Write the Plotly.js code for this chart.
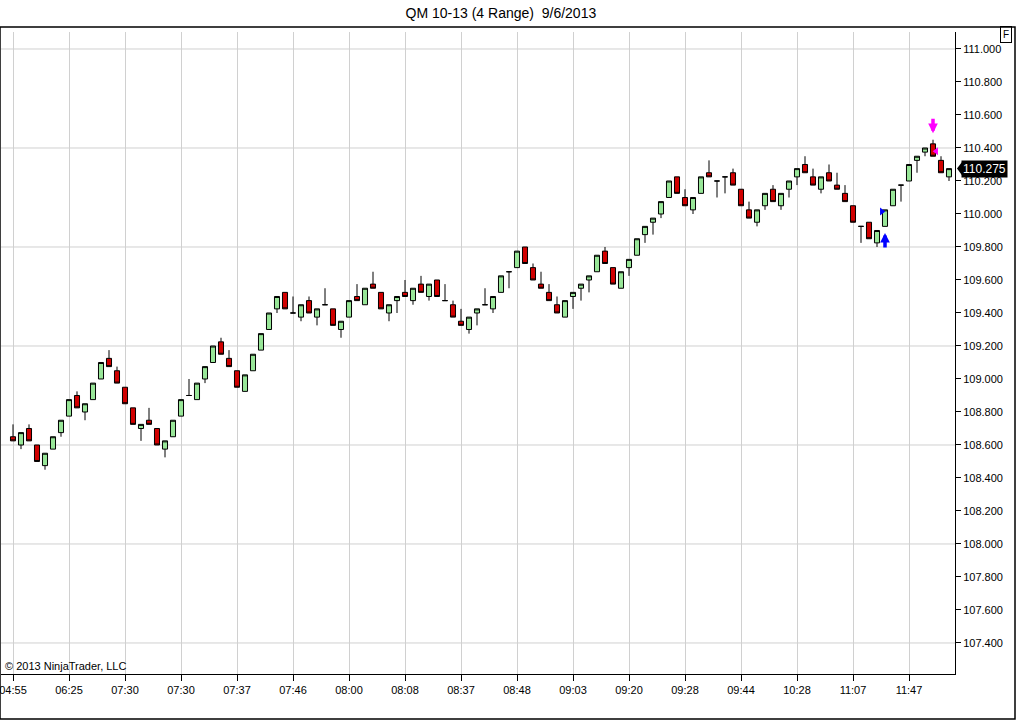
<!DOCTYPE html>
<html>
<head>
<meta charset="utf-8">
<script src="https://cdn.plot.ly/plotly-3.0.1.min.js"></script>
<style>
  html, body { margin: 0; padding: 0; background: #fff; }
  #plot { width: 1016px; height: 720px; }
</style>
</head>
<body>
<div id="plot"></div>
<script>
// QM 10-13, 4 tick range bars
const opens = [
  108.65, 108.6, 108.7, 108.6, 108.475, 108.575, 108.675, 108.775, 108.9, 108.8,
  108.875, 109.0, 109.125, 109.05, 108.95, 108.825, 108.7, 108.75, 108.7, 108.575,
  108.65, 108.775, 108.9, 108.875, 109.0, 109.1, 109.225, 109.125, 109.05, 108.925,
  109.05, 109.175, 109.3, 109.425, 109.525, 109.4, 109.375, 109.475, 109.375, 109.45,
  109.425, 109.3, 109.375, 109.5, 109.45, 109.575, 109.525, 109.4, 109.475, 109.525,
  109.475, 109.575, 109.5, 109.6, 109.475, 109.45, 109.35, 109.3, 109.4, 109.45,
  109.425, 109.525, 109.65, 109.675, 109.8, 109.675, 109.575, 109.525, 109.45, 109.375,
  109.5, 109.55, 109.6, 109.65, 109.775, 109.675, 109.55, 109.675, 109.75, 109.875,
  109.95, 110.0, 110.1, 110.225, 110.1, 110.025, 110.125, 110.25, 110.2, 110.225,
  110.25, 110.15, 110.025, 109.95, 110.05, 110.15, 110.05, 110.15, 110.225, 110.3,
  110.225, 110.15, 110.25, 110.175, 110.125, 110.05, 109.925, 109.95, 109.825, 109.925,
  110.05, 110.175, 110.2, 110.325, 110.375, 110.425, 110.325, 110.225
];
const highs = [
  108.725, 108.675, 108.725, 108.6, 108.55, 108.65, 108.75, 108.875, 108.925, 108.85,
  108.975, 109.1, 109.175, 109.075, 108.95, 108.825, 108.725, 108.825, 108.7, 108.625,
  108.75, 108.875, 109.0, 108.975, 109.075, 109.2, 109.25, 109.175, 109.05, 109.025,
  109.15, 109.275, 109.4, 109.5, 109.525, 109.5, 109.45, 109.5, 109.425, 109.55,
  109.425, 109.35, 109.475, 109.575, 109.55, 109.65, 109.525, 109.45, 109.5, 109.6,
  109.55, 109.625, 109.575, 109.6, 109.575, 109.475, 109.425, 109.375, 109.425, 109.55,
  109.5, 109.625, 109.65, 109.775, 109.8, 109.7, 109.65, 109.575, 109.5, 109.475,
  109.525, 109.575, 109.625, 109.75, 109.8, 109.675, 109.65, 109.725, 109.85, 109.925,
  109.975, 110.075, 110.2, 110.225, 110.15, 110.1, 110.225, 110.325, 110.2, 110.225,
  110.275, 110.15, 110.075, 110.025, 110.125, 110.175, 110.125, 110.2, 110.275, 110.35,
  110.275, 110.225, 110.3, 110.25, 110.175, 110.05, 109.925, 109.95, 109.9, 110.025,
  110.15, 110.175, 110.3, 110.35, 110.4, 110.45, 110.35, 110.275
];
const lows = [
  108.625, 108.575, 108.625, 108.5, 108.45, 108.575, 108.65, 108.775, 108.825, 108.75,
  108.875, 109.0, 109.075, 108.975, 108.85, 108.725, 108.625, 108.725, 108.6, 108.525,
  108.65, 108.775, 108.9, 108.875, 108.975, 109.1, 109.15, 109.075, 108.95, 108.925,
  109.05, 109.175, 109.3, 109.4, 109.425, 109.4, 109.35, 109.4, 109.325, 109.45,
  109.325, 109.25, 109.375, 109.475, 109.45, 109.55, 109.425, 109.35, 109.4, 109.5,
  109.45, 109.525, 109.475, 109.5, 109.475, 109.375, 109.325, 109.275, 109.325, 109.45,
  109.4, 109.525, 109.55, 109.675, 109.7, 109.6, 109.55, 109.475, 109.4, 109.375,
  109.425, 109.475, 109.525, 109.65, 109.7, 109.575, 109.55, 109.625, 109.75, 109.825,
  109.875, 109.975, 110.1, 110.125, 110.05, 110.0, 110.125, 110.225, 110.1, 110.125,
  110.175, 110.05, 109.975, 109.925, 110.025, 110.075, 110.025, 110.1, 110.175, 110.25,
  110.175, 110.125, 110.2, 110.15, 110.075, 109.95, 109.825, 109.85, 109.8, 109.925,
  110.05, 110.075, 110.2, 110.25, 110.35, 110.35, 110.25, 110.2
];
const closes = [
  108.625, 108.675, 108.625, 108.5, 108.55, 108.65, 108.75, 108.875, 108.825, 108.85,
  108.975, 109.1, 109.075, 108.975, 108.85, 108.725, 108.725, 108.725, 108.6, 108.625,
  108.75, 108.875, 108.9, 108.975, 109.075, 109.2, 109.15, 109.075, 108.95, 109.025,
  109.15, 109.275, 109.4, 109.5, 109.425, 109.4, 109.45, 109.4, 109.425, 109.45,
  109.325, 109.35, 109.475, 109.475, 109.55, 109.55, 109.425, 109.45, 109.5, 109.5,
  109.55, 109.525, 109.575, 109.5, 109.475, 109.375, 109.325, 109.375, 109.425, 109.45,
  109.5, 109.625, 109.65, 109.775, 109.7, 109.6, 109.55, 109.475, 109.4, 109.475,
  109.525, 109.575, 109.625, 109.75, 109.7, 109.575, 109.65, 109.725, 109.85, 109.925,
  109.975, 110.075, 110.2, 110.125, 110.05, 110.1, 110.225, 110.225, 110.2, 110.225,
  110.175, 110.05, 109.975, 110.025, 110.125, 110.075, 110.125, 110.2, 110.275, 110.25,
  110.175, 110.225, 110.2, 110.15, 110.075, 109.95, 109.925, 109.85, 109.9, 110.025,
  110.15, 110.175, 110.3, 110.35, 110.4, 110.35, 110.25, 110.275
];
const timeLabels = ['04:55', '06:25', '07:30', '07:30', '07:37', '07:46', '08:00', '08:08',
  '08:37', '08:48', '09:03', '09:20', '09:28', '09:44', '10:28', '11:07', '11:47'];
const labelEvery = 7;
const priceTicks = [107.4, 107.6, 107.8, 108.0, 108.2, 108.4, 108.6, 108.8, 109.0,
  109.2, 109.4, 109.6, 109.8, 110.0, 110.2, 110.4, 110.6, 110.8, 111.0];
const longEntryBar = 109;
const exitBar = 115;

const plotDiv = document.getElementById('plot');
const bars = opens.map(function (v, i) { return i; });
const tickIdx = timeLabels.map(function (t, i) { return i * labelEvery; });
// horizontal grid only on every third price label
const gridPrices = priceTicks.filter(function (p, i) { return i % 3 === 0; });

const candles = {
	type: 'candlestick',
	x: bars,
	open: opens,
	high: highs,
	low: lows,
	close: closes,
	increasing: {fillcolor: '#98e698', line: {color: '#000', width: 1}},
	decreasing: {fillcolor: '#d00000', line: {color: '#000', width: 1}},
	whiskerwidth: 0,
	hoverinfo: 'skip',
	showlegend: false
};

// small entry / exit flags next to the signal bars
const flags = {
	type: 'scatter',
	mode: 'markers',
	x: [longEntryBar - 0.4, exitBar + 0.4],
	y: [closes[longEntryBar] - 0.01, opens[exitBar] - 0.045],
	marker: {
		symbol: ['triangle-right', 'triangle-left'],
		color: ['#0000ff', '#ff00ff'],
		size: 7,
		line: {width: 0}
	},
	hoverinfo: 'skip',
	showlegend: false
};

const lastClose = closes[closes.length - 1];
const font = 'Liberation Sans, Arial, sans-serif';

const gridShapes = gridPrices.map(function (p) {
	return {type: 'line', xref: 'paper', yref: 'y', x0: 0, x1: 1, y0: p, y1: p,
		layer: 'below', line: {color: '#d0d0d0', width: 1}};
});

const layout = {
	width: 1016,
	height: 720,
	paper_bgcolor: '#fff',
	plot_bgcolor: '#fff',
	margin: {l: 1, r: 61, t: 32, b: 46},
	showlegend: false,
	boxgap: 0.1,
	font: {family: font, size: 11, color: '#000'},
	title: {
		text: 'QM 10-13 (4 Range)  9/6/2013',
		font: {family: font, size: 14, color: '#000'},
		xref: 'container', x: 0.493, xanchor: 'center',
		yref: 'container', y: 0.982, yanchor: 'middle'
	},
	xaxis: {
		range: [-1.5, 117.75],
		rangeslider: {visible: false},
		tickmode: 'array',
		tickvals: tickIdx,
		ticktext: timeLabels,
		ticks: 'outside',
		ticklen: 6,
		tickcolor: '#000',
		ticklabeloverflow: 'allow',
		showgrid: true,
		gridcolor: '#d0d0d0',
		gridwidth: 1,
		showline: true,
		linecolor: '#000',
		linewidth: 1,
		zeroline: false,
		fixedrange: true,
		tickfont: {family: font, size: 11, color: '#000'}
	},
	yaxis: {
		range: [107.212, 111.103],
		side: 'right',
		tickmode: 'array',
		tickvals: priceTicks,
		ticktext: priceTicks.map(function (p) { return p.toFixed(3); }),
		ticks: 'outside',
		ticklen: 5,
		tickcolor: '#000',
		showgrid: false,
		showline: true,
		linecolor: '#000',
		linewidth: 1,
		zeroline: false,
		fixedrange: true,
		tickfont: {family: font, size: 11, color: '#000'}
	},
	shapes: gridShapes.concat([
		{type: 'rect', xref: 'paper', yref: 'paper',
			x0: -1 / 954, x1: 1014 / 954, y0: -45 / 642, y1: 647 / 642,
			line: {color: '#000', width: 1.5}, fillcolor: 'rgba(0,0,0,0)'},
		// pointer of the last price box
		{type: 'path', xref: 'paper', yref: 'y',
			path: 'M ' + (956 / 954) + ',' + lastClose +
				' L ' + (961 / 954) + ',' + (lastClose + 0.04) +
				' L ' + (961 / 954) + ',' + (lastClose - 0.04) + ' Z',
			fillcolor: '#000', line: {width: 0}}
	]),
	annotations: [
		{xref: 'paper', yref: 'y', x: 960 / 954, y: lastClose, xanchor: 'left',
			text: lastClose.toFixed(3), showarrow: false, bgcolor: '#000', borderpad: 1,
			font: {family: font, size: 12, color: '#fff'}},
		{xref: 'paper', yref: 'paper', x: 0, y: 0, xanchor: 'left', yanchor: 'bottom',
			xshift: 2, yshift: 0, text: '\u00a9 2013 NinjaTrader, LLC', showarrow: false,
			font: {family: font, size: 11, color: '#000'}},
		{xref: 'paper', yref: 'paper', x: 1005 / 954, y: 639 / 642, xanchor: 'center', yanchor: 'middle',
			text: 'F', showarrow: false, bordercolor: '#000', borderwidth: 1, borderpad: 2,
			font: {family: font, size: 10, color: '#000'}},
		{x: longEntryBar, y: lows[longEntryBar] - 0.04, ax: 0, ay: 16,
			text: '', showarrow: true, arrowhead: 2, arrowsize: 0.55, arrowwidth: 3.5, arrowcolor: '#0000ff'},
		{x: exitBar, y: highs[exitBar] + 0.04, ax: 0, ay: -16,
			text: '', showarrow: true, arrowhead: 2, arrowsize: 0.55, arrowwidth: 3.5, arrowcolor: '#ff00ff'}
	]
};

Plotly.newPlot(plotDiv, [candles, flags], layout, {displayModeBar: false, staticPlot: true});
</script>
</body>
</html>
